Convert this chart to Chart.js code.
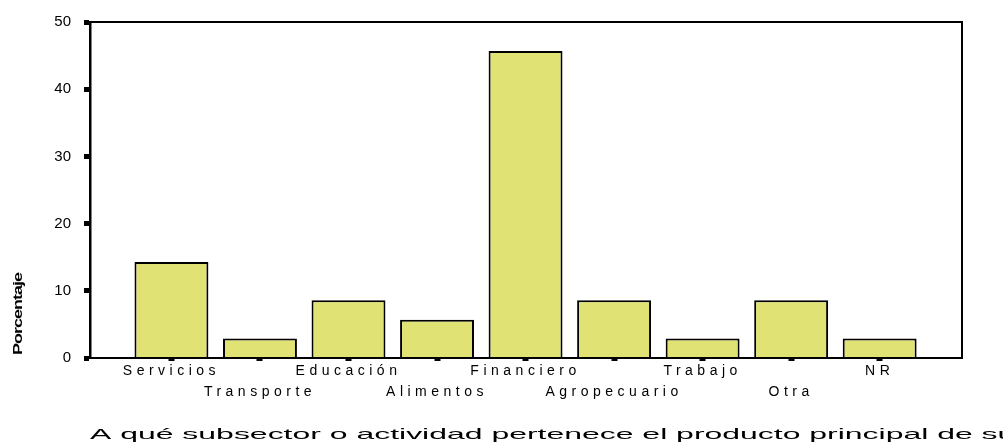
<!DOCTYPE html>
<html>
<head>
<meta charset="utf-8">
<script src="https://cdn.jsdelivr.net/npm/chart.js@4/dist/chart.umd.min.js"></script>
<style>
    html, body { margin: 0; padding: 0; background: #fff; }
    #wrap { width: 1003px; height: 442px; }
</style>
</head>
<body>
<div id="wrap"><canvas id="chart"></canvas></div>
<script>
const categorias = ['Servicios', 'Transporte', 'Educación', 'Alimentos', 'Financiero', 'Agropecuario', 'Trabajo', 'Otra', 'NR'];
const porcentajes = [14.3, 2.9, 8.6, 5.7, 45.7, 8.6, 2.9, 8.6, 2.9];
const yTicks = [0, 10, 20, 30, 40, 50];
const tituloEje = 'Porcentaje';
const tituloGrafico = 'A qué subsector o actividad pertenece el producto principal de su';

const FONT = '"Liberation Sans", Arial, sans-serif';
Chart.defaults.font.family = FONT;
Chart.defaults.color = '#000';

// spaced x labels, frame, and the two titles
const marcoYTextos = {
    id: 'marcoYTextos',
    beforeDraw(chart) {
        chart.ctx.letterSpacing = '4.5px';
    },
    afterDatasetsDraw(chart) {
        // y tick labels are drawn after this (z: 1), without spacing
        chart.ctx.letterSpacing = '0px';
    },
    afterDraw(chart) {
        const { ctx, chartArea: a } = chart;
        ctx.save();
        ctx.letterSpacing = '0px';
        ctx.strokeStyle = '#000';
        ctx.lineWidth = 2;
        ctx.strokeRect(a.left, a.top, a.right - a.left, a.bottom - a.top);

        // y axis title
        ctx.save();
        ctx.translate(18, 314);
        ctx.rotate(-Math.PI / 2);
        ctx.scale(1, 0.75);
        ctx.font = 'bold 18px ' + FONT;
        ctx.letterSpacing = '-1px';
        ctx.fillStyle = '#000';
        ctx.textAlign = 'center';
        ctx.textBaseline = 'middle';
        ctx.fillText(tituloEje, 0, 0);
        ctx.restore();

        // bottom title
        ctx.translate(90, 439);
        ctx.scale(2.13, 1);
        ctx.font = '15px ' + FONT;
        ctx.fillStyle = '#000';
        ctx.textAlign = 'left';
        ctx.textBaseline = 'alphabetic';
        ctx.fillText(tituloGrafico, 0, 0);
        ctx.restore();
    }
};

const ctx = document.getElementById('chart').getContext('2d');
new Chart(ctx, {
    type: 'bar',
    data: {
        datasets: [{
            data: porcentajes.map((v, i) => ({ x: i, y: v })),
            backgroundColor: '#e0e273',
            borderColor: '#000',
            borderWidth: 2,
            barPercentage: 0.835,
            categoryPercentage: 1
        }]
    },
    options: {
        responsive: true,
        maintainAspectRatio: false,
        animation: false,
        layout: { padding: { top: 20, right: 41, left: 0, bottom: 0 } },
        plugins: { legend: { display: false }, tooltip: { enabled: false } },
        scales: {
            x: {
                type: 'linear',
                min: -0.92,
                max: 8.93,
                offset: false,
                afterBuildTicks: (scale) => { scale.ticks = categorias.map((c, i) => ({ value: i })); },
                afterFit: (scale) => { scale.height = 84; },
                grid: { offset: false, drawOnChartArea: false, drawTicks: true, tickLength: 3, tickWidth: 6, tickColor: '#000' },
                border: { display: true, color: '#000', width: 2 },
                ticks: {
                    autoSkip: false,
                    maxRotation: 0,
                    minRotation: 0,
                    padding: 0,
                    font: { size: 14, lineHeight: 1.5 },
                    callback: (v) => {
                        const i = Math.round(v);
                        return i % 2 === 0 ? [categorias[i], ''] : ['', categorias[i]];
                    }
                }
            },
            y: {
                min: 0,
                max: 50,
                afterBuildTicks: (scale) => { scale.ticks = yTicks.map(v => ({ value: v })); },
                afterFit: (scale) => { scale.width = 90; },
                grid: { drawOnChartArea: false, drawTicks: true, tickLength: 6, tickWidth: 5, tickColor: '#000' },
                border: { display: true, color: '#000', width: 2.5 },
                ticks: { z: 1, padding: 13, font: { size: 15 } }
            }
        }
    },
    plugins: [marcoYTextos]
});
</script>
</body>
</html>
